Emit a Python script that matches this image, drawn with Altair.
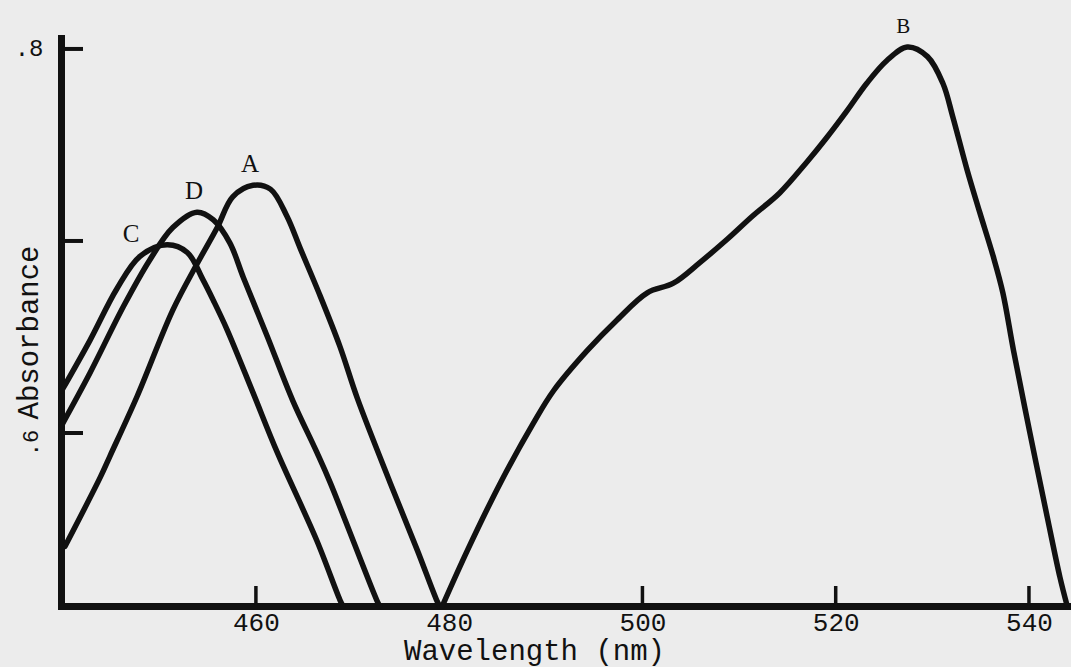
import altair as alt
import pandas as pd

# Absorption spectra (wavelength in nm, absorbance) for the four traces
a_wl = [440.25, 443.9, 444.9, 447.7, 451.4, 453.9, 456.0, 457.6, 459.7, 461.5,
        463.2, 464.6, 466.6, 468.7, 470.5, 473.9, 476.7, 478.7, 479.0]
a_abs = [0.541, 0.577, 0.588, 0.619, 0.664, 0.688, 0.707, 0.723, 0.729, 0.727,
         0.713, 0.696, 0.672, 0.645, 0.618, 0.574, 0.539, 0.513, 0.510]

b_wl = [479.3, 481.9, 485.3, 488.7, 490.8, 494.3, 497.4, 500.5, 503.2, 506.0,
        508.8, 511.4, 514.2, 517.0, 519.1, 521.2, 523.2, 525.3, 527.4, 529.5,
        531.1, 532.1, 533.6, 534.9, 536.3, 537.3, 538.4, 540.1, 541.9, 543.2, 543.9]
b_abs = [0.510, 0.539, 0.574, 0.605, 0.622, 0.643, 0.659, 0.673, 0.678, 0.689,
         0.701, 0.713, 0.725, 0.741, 0.754, 0.768, 0.782, 0.794, 0.801, 0.796,
         0.782, 0.765, 0.737, 0.715, 0.692, 0.673, 0.643, 0.600, 0.556, 0.525, 0.511]

c_wl = [439.9, 442.8, 445.6, 448.0, 450.8, 452.9, 454.5, 455.6, 457.0, 459.7,
        462.2, 466.3, 468.7, 469.0]
c_abs = [0.622, 0.648, 0.675, 0.692, 0.698, 0.694, 0.680, 0.669, 0.654, 0.621,
         0.590, 0.544, 0.513, 0.510]

d_wl = [439.9, 442.8, 446.3, 449.0, 451.4, 453.9, 455.6, 457.3, 458.7, 461.2,
        463.8, 466.3, 467.7, 472.5, 472.8]
d_abs = [0.604, 0.631, 0.666, 0.690, 0.707, 0.715, 0.711, 0.699, 0.681, 0.650,
         0.617, 0.590, 0.574, 0.513, 0.510]

x_label_values = [460, 480, 500, 520, 540]
x_tick_values = [460, 500, 520, 540]
y_tick_values = [0.6, 0.7, 0.8]
y_rotated_label = [0.6]

rows = []
for name, wls, vals in [("A", a_wl, a_abs), ("B", b_wl, b_abs),
                        ("C", c_wl, c_abs), ("D", d_wl, d_abs)]:
    for w, v in zip(wls, vals):
        rows.append({"curve": name, "wavelength": w, "absorbance": v})
curves = pd.DataFrame(rows)

# each curve's letter sits just above its maximum
peaks = curves.loc[curves.groupby("curve")["absorbance"].idxmax()].reset_index(drop=True)

INK = "#111111"
MONO = "Liberation Mono"

x_scale = alt.Scale(domain=[439.83, 544.35], nice=False, zero=False)
y_scale = alt.Scale(domain=[0.5099, 0.8057], nice=False, zero=False)

X = alt.X("wavelength:Q", scale=x_scale)
Y = alt.Y("absorbance:Q", scale=y_scale)

lines = alt.Chart(curves).mark_line(
    color=INK, strokeWidth=5.5, interpolate="catmull-rom",
    strokeCap="round", strokeJoin="round"
).encode(
    x=alt.X("wavelength:Q", scale=x_scale,
            axis=alt.Axis(values=x_label_values, ticks=False, grid=False,
                          domainWidth=7, domainColor=INK, domainCap="square",
                          labelFont=MONO, labelFontSize=26, labelColor=INK,
                          labelPadding=3, labelFlush=False,
                          title="Wavelength (nm)", titleFont=MONO,
                          titleFontSize=29, titleFontWeight="normal",
                          titleColor=INK, titleX=473, titleY=53,
                          titleAlign="center", titleBaseline="alphabetic")),
    y=alt.Y("absorbance:Q", scale=y_scale,
            axis=alt.Axis(values=[0.8], ticks=False, grid=False,
                          domainWidth=7, domainColor=INK, domainCap="square",
                          labelExpr="substring(format(datum.value, '.1f'), 1)",
                          labelFont=MONO, labelFontSize=24, labelColor=INK,
                          labelPadding=18, labelBaseline="middle",
                          labelFlush=False,
                          title="Absorbance", titleFont=MONO,
                          titleFontSize=29, titleFontWeight="normal",
                          titleColor=INK, titleAngle=270, titleX=-24,
                          titleY=294, titleAlign="center",
                          titleBaseline="alphabetic")),
    detail="curve:N",
)

# tick marks drawn on the inside of both axes
x_ticks = alt.Chart(pd.DataFrame({"wavelength": x_tick_values})).mark_rule(
    color=INK, strokeWidth=3.5
).encode(
    x=X, y=alt.value(568), y2=alt.value(548),
)

y_ticks = alt.Chart(pd.DataFrame({"absorbance": y_tick_values})).mark_rule(
    color=INK, strokeWidth=4
).encode(
    y=Y, x=alt.value(0), x2=alt.value(22),
)

low_label = alt.Chart(pd.DataFrame({"absorbance": y_rotated_label})).mark_text(
    font=MONO, fontSize=22, color=INK, angle=270,
    align="center", baseline="middle"
).encode(
    y=Y,
    x=alt.value(-30),
    yOffset=alt.value(10),
    text=alt.value(".6"),
)

letter_style = dict(font="Liberation Serif", color=INK, align="center",
                    baseline="middle")

labels_ad = alt.Chart(peaks[peaks["curve"].isin(["A", "D"])]).mark_text(
    fontSize=25, dx=-3, dy=-21, **letter_style
).encode(x=X, y=Y, text="curve:N")

label_b = alt.Chart(peaks[peaks["curve"] == "B"]).mark_text(
    fontSize=21, dx=-4, dy=-20, **letter_style
).encode(x=X, y=Y, text="curve:N")

label_c = alt.Chart(peaks[peaks["curve"] == "C"]).mark_text(
    fontSize=25, dx=-36, dy=-11, **letter_style
).encode(x=X, y=Y, text="curve:N")

chart = alt.layer(
    lines, x_ticks, y_ticks, low_label, labels_ad, label_b, label_c
).properties(
    width=1010, height=568,
    autosize=alt.AutoSizeParams(type="none"),
    padding={"left": 61, "top": 38, "right": 0, "bottom": 61},
).configure(
    background="#ececec",
).configure_view(
    stroke=None,
)

chart.save("out.html", embed_options={"renderer": "svg", "actions": False})
